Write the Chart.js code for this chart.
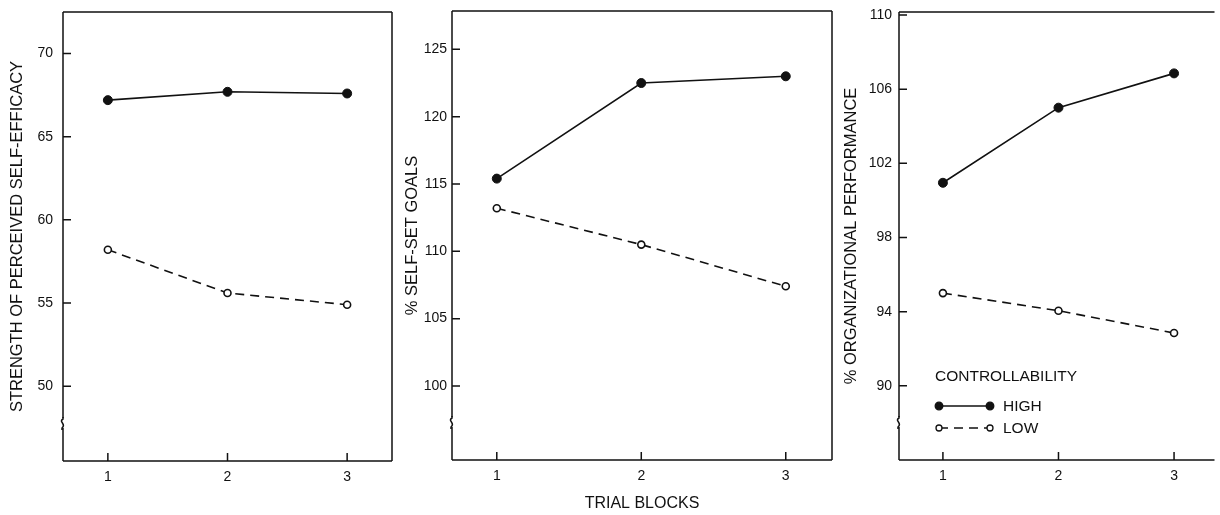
<!DOCTYPE html>
<html><head><meta charset="utf-8">
<script src="https://cdn.jsdelivr.net/npm/chart.js@4.4.0/dist/chart.umd.min.js"></script>
<style>
html,body{margin:0;padding:0;background:#fff;}
#wrap{position:relative;width:1220px;height:515px;overflow:hidden;}
canvas{position:absolute;top:0;}
</style></head><body>
<div id="wrap">
<canvas id="c1" width="400" height="515" style="left:0"></canvas>
<canvas id="c2" width="440" height="515" style="left:400px"></canvas>
<canvas id="c3" width="380" height="515" style="left:840px"></canvas>
</div>
<script>
// ─── DATA ───────────────────────────────────────────────────────────
const trialBlocks=[1,2,3];
const efficacyHigh=[67.2,67.7,67.6];
const efficacyLow=[58.2,55.6,54.9];
const goalsHigh=[115.4,122.5,123.0];
const goalsLow=[113.2,110.5,107.4];
const perfHigh=[100.95,105.0,106.85];
const perfLow=[95.0,94.05,92.85];
const efficacyTicks=[50,55,60,65,70];
const goalsTicks=[100,105,110,115,120,125];
const perfTicks=[90,94,98,102,106,110];
const seriesLabels=['HIGH','LOW'];

const INK='#111';
const FONT="'Liberation Sans', Arial, Helvetica, sans-serif";

function pts(vals){return trialBlocks.map((x,i)=>({x:x,y:vals[i]}));}
function sets(high,low){return [
  {label:seriesLabels[0],data:pts(high),borderColor:INK,backgroundColor:INK,borderWidth:1.6,pointRadius:4.5,pointHoverRadius:4.5,pointBorderWidth:1,pointBackgroundColor:INK,pointBorderColor:INK,tension:0},
  {label:seriesLabels[1],data:pts(low),borderColor:INK,backgroundColor:'#fff',borderWidth:1.6,borderDash:[9,6],pointRadius:3.5,pointHoverRadius:3.5,pointBorderWidth:1.6,pointBackgroundColor:'#fff',pointBorderColor:INK,tension:0}
];}

// frame, inward ticks and axis break
const framePlugin={id:'frame',beforeDatasetsDraw(chart,args,o){
  const {ctx,chartArea:a}=chart, s=o.sides||'tlbr';
  ctx.save();ctx.strokeStyle=INK;ctx.lineWidth=1.5;ctx.beginPath();
  if(s.includes('t')){ctx.moveTo(a.left,a.top);ctx.lineTo(a.right,a.top);}
  if(s.includes('r')){ctx.moveTo(a.right,a.top);ctx.lineTo(a.right,a.bottom);}
  if(s.includes('b')){ctx.moveTo(a.left,a.bottom);ctx.lineTo(a.right,a.bottom);}
  if(s.includes('l')){ctx.moveTo(a.left,a.top);ctx.lineTo(a.left,a.bottom);}
  const ys=chart.scales.y, xs=chart.scales.x;
  ys.ticks.forEach(t=>{const y=ys.getPixelForValue(t.value);ctx.moveTo(a.left,y);ctx.lineTo(a.left+8,y);});
  xs.ticks.forEach(t=>{const x=xs.getPixelForValue(t.value);ctx.moveTo(x,a.bottom);ctx.lineTo(x,a.bottom-8);});
  ctx.stroke();
  const by=a.bottom-38;
  ctx.fillStyle='#fff';ctx.fillRect(a.left-3,by-5,6,10);
  ctx.beginPath();ctx.moveTo(a.left,by-6);ctx.lineTo(a.left,by-4);
  ctx.bezierCurveTo(a.left-5,by-1,a.left+4,by+1,a.left-1,by+5);ctx.lineTo(a.left-1,by+7);
  ctx.stroke();
  ctx.restore();
}};

// legend: marker — line — marker  LABEL
const legendPlugin={id:'ctrlLegend',afterDraw(chart,args,o){
  if(!o.show) return;
  const {ctx,chartArea:a}=chart;
  ctx.save();ctx.fillStyle=INK;ctx.font='15.5px '+FONT;ctx.textBaseline='middle';
  ctx.fillText(o.title,a.left+36,377);
  chart.data.datasets.forEach((d,i)=>{
    const y=406+i*22, x0=a.left+40, x1=a.left+91;
    ctx.strokeStyle=INK;ctx.lineWidth=1.3;ctx.setLineDash(d.borderDash||[]);
    ctx.beginPath();ctx.moveTo(x0,y);ctx.lineTo(x1,y);ctx.stroke();ctx.setLineDash([]);
    [x0,x1].forEach(x=>{ctx.beginPath();ctx.arc(x,y,i===0?3.8:3,0,Math.PI*2);
      ctx.fillStyle=d.pointBackgroundColor;ctx.fill();ctx.lineWidth=1.3;ctx.strokeStyle=INK;ctx.stroke();});
    ctx.fillStyle=INK;ctx.fillText(d.label,a.left+104,y+1);
  });
  ctx.restore();
}};

function makeChart(id,p){
  return new Chart(document.getElementById(id),{
    type:'line',
    data:{datasets:sets(p.high,p.low)},
    plugins:[framePlugin,legendPlugin],
    options:{responsive:false,animation:false,devicePixelRatio:1,
      layout:{padding:{left:0,right:p.padRight,top:p.padTop,bottom:0}},
      plugins:{legend:{display:false},tooltip:{enabled:false},
        frame:{sides:p.sides},ctrlLegend:{show:!!p.legend,title:'CONTROLLABILITY'}},
      scales:{
        x:{type:'linear',min:p.xMin,max:p.xMax,
          afterBuildTicks:s=>{s.ticks=trialBlocks.map(v=>({value:v}));},
          afterFit:s=>{s.height=p.xHeight;s.paddingLeft=0;s.paddingRight=0;},
          grid:{display:false,drawTicks:false},border:{display:false},
          ticks:{padding:8,color:INK,font:{family:FONT,size:14}},
          title:{display:!!p.xTitle,text:p.xTitle||'',color:INK,font:{family:FONT,size:16},padding:{top:0,bottom:2}}},
        y:{type:'linear',min:p.yMin,max:p.yMax,
          afterBuildTicks:s=>{s.ticks=p.yTicks.map(v=>({value:v}));},
          afterFit:s=>{s.width=p.yWidth;s.paddingTop=0;s.paddingBottom=0;},
          grid:{display:false,drawTicks:false},border:{display:false},
          ticks:{padding:p.labelPad,color:INK,font:{family:FONT,size:14}},
          title:{display:true,text:p.title,color:INK,font:{family:FONT,size:16.5},padding:{top:p.titlePad,bottom:0}}}
      }}
  });
}

makeChart('c1',{high:efficacyHigh,low:efficacyLow,yTicks:efficacyTicks,yMin:45.5,yMax:72.5,xMin:0.625,xMax:3.375,
  yWidth:63,padRight:8,padTop:12,xHeight:54,labelPad:10,titlePad:8,sides:'tlbr',
  title:'STRENGTH OF PERCEIVED SELF-EFFICACY'});
makeChart('c2',{high:goalsHigh,low:goalsLow,yTicks:goalsTicks,yMin:94.5,yMax:127.85,xMin:0.69,xMax:3.32,
  yWidth:52,padRight:8,padTop:11,xHeight:55,labelPad:5,titlePad:3,sides:'tlbr',
  title:'% SELF-SET GOALS',xTitle:'TRIAL BLOCKS'});
makeChart('c3',{high:perfHigh,low:perfLow,yTicks:perfTicks,yMin:86,yMax:110.16,xMin:0.62,xMax:3.35,
  yWidth:59,padRight:0,padTop:12,xHeight:55,labelPad:7,titlePad:2,sides:'tlb',legend:true,
  title:'% ORGANIZATIONAL PERFORMANCE'});
</script>
</body></html>
